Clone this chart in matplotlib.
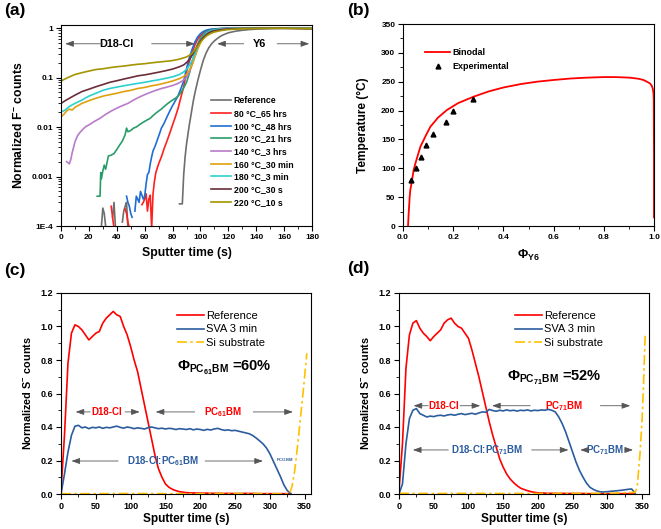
import numpy as np
import matplotlib
matplotlib.use("Agg")
import matplotlib.pyplot as plt
from matplotlib.ticker import MultipleLocator, FixedLocator, LogLocator, NullFormatter

plt.rcParams['font.family'] = ['Liberation Sans', 'DejaVu Sans']
plt.rcParams['font.weight'] = 'bold'
plt.rcParams['mathtext.fontset'] = 'custom'
plt.rcParams['mathtext.rm'] = 'Liberation Sans:bold'
plt.rcParams['mathtext.bf'] = 'Liberation Sans:bold'
plt.rcParams['mathtext.it'] = 'Liberation Sans:bold'
plt.rcParams['mathtext.default'] = 'bf'
plt.rcParams['axes.linewidth'] = 0.8
nan = np.nan

# ---------------- (a) ToF-SIMS F- depth profiles ----------------
ref_t = [29, 30, 31, 32, 33, 34, 37, 38, 39, 40, 41, 44, 45, 46, 47, 48, 49, 85, 86, 87, 88, 89, 90, 91, 92, 93, 94, 95, 96,
         98, 100, 102, 104, 106, 108, 110, 112, 114, 116, 118, 120, 125, 130, 135, 140, 150, 160, 170, 180]
ref_y = [0.0001, 0.00023, 0.00018, 0.0001, 0.00008, nan, 0.00015, 0.0003, 0.0001, 0.00008, nan, 0.00012, 0.0002,
         0.00025, 0.0003, 0.00009, nan, 0.00028, 0.00028, 0.00028, 0.0011, 0.0025, 0.0045, 0.007, 0.011, 0.016, 0.024,
         0.035, 0.048, 0.085, 0.14, 0.22, 0.31, 0.4, 0.48, 0.55, 0.61, 0.67, 0.72, 0.76, 0.8, 0.86, 0.9, 0.93, 0.95,
         0.97, 0.98, 0.98, 0.98]
t80_t = [36, 37, 38, 39, 46, 47, 48, 49, 50, 58, 59, 60, 61, 62, 63, 64, 65, 66, 67, 68, 70, 72, 74, 76, 78, 80, 82, 84,
         86, 88, 90, 92, 94, 96, 98, 100, 102, 104, 106, 108, 110, 115, 120, 130, 140, 150, 160, 170, 180]
t80_y = [0.00025, 0.00015, 0.00009, nan, 0.00022, 0.00018, 0.00012, 0.00009, nan, 0.00027, 0.0003, 0.00035, 0.00045,
         0.0002, 0.00035, 0.00042, 0.00009, 0.00045, 0.0008, 0.0012, 0.0018, 0.0025, 0.0037, 0.0052, 0.0075, 0.011,
         0.016, 0.024, 0.04, 0.065, 0.13, 0.21, 0.32, 0.45, 0.59, 0.7, 0.79, 0.86, 0.9, 0.93, 0.95, 0.97, 0.98, 0.99,
         1.0, 1.0, 1.0, 0.99, 0.97]
t100_t = [47, 48, 49, 50, 51, 52, 53, 54, 55, 56, 57, 58, 59, 60, 61, 62, 63, 64, 65, 66, 67, 68, 70, 72, 74, 76, 78, 80,
          82, 84, 86, 88, 90, 92, 94, 96, 98, 100, 102, 104, 106, 108, 110, 115, 120, 130, 140, 150, 160, 170, 180]
t100_y = [0.0004, 0.0003, 0.00025, 0.00018, 0.00015, nan, 0.0002, 0.0004, 0.00035, 0.0003, 0.0005, 0.00042, 0.00035,
          0.0004, 0.0007, 0.0011, 0.0012, 0.0018, 0.0025, 0.0033, 0.0038, 0.0045, 0.0065, 0.0095, 0.012, 0.016, 0.021,
          0.027, 0.034, 0.043, 0.06, 0.085, 0.15, 0.25, 0.37, 0.52, 0.66, 0.77, 0.85, 0.9, 0.93, 0.95, 0.96, 0.98,
          0.99, 1.0, 1.0, 1.0, 1.0, 0.99, 0.98]
t120_t = [26, 28, 28.5, 29, 30, 31, 32, 34, 36, 38, 40, 42, 44, 46, 47, 48, 50, 52, 54, 56, 58, 60, 62, 64, 66, 68, 70,
          72, 74, 76, 78, 80, 82, 84, 86, 88, 90, 92, 94, 96, 98, 100, 102, 104, 106, 108, 110, 115, 120, 130, 140, 150,
          160, 170, 180]
t120_y = [0.0004, 0.0004, 0.0012, 0.0009, 0.0013, 0.0017, 0.0014, 0.0026, 0.0027, 0.0029, 0.0035, 0.0043, 0.0052,
          0.007, 0.0095, 0.008, 0.0085, 0.0095, 0.01, 0.011, 0.012, 0.013, 0.014, 0.015, 0.017, 0.019, 0.021, 0.023,
          0.026, 0.029, 0.032, 0.035, 0.038, 0.042, 0.05, 0.062, 0.08, 0.12, 0.2, 0.32, 0.47, 0.62, 0.74, 0.83, 0.88,
          0.92, 0.94, 0.97, 0.98, 0.99, 1.0, 1.0, 1.0, 0.99, 0.99]
t140_t = [4, 6, 7, 8, 10, 12, 14, 16, 18, 20, 24, 28, 32, 36, 40, 44, 48, 52, 56, 60, 64, 68, 72, 76, 80, 84, 87, 90, 92,
          94, 96, 98, 100, 102, 104, 106, 108, 110, 115, 120, 130, 140, 150, 160, 170, 180]
t140_y = [0.002, 0.0018, 0.0022, 0.003, 0.005, 0.0068, 0.008, 0.0092, 0.0103, 0.011, 0.013, 0.015, 0.018, 0.021,
          0.024, 0.027, 0.03, 0.035, 0.04, 0.045, 0.05, 0.055, 0.06, 0.064, 0.069, 0.076, 0.085, 0.1, 0.13, 0.18, 0.27,
          0.4, 0.55, 0.67, 0.77, 0.84, 0.88, 0.91, 0.95, 0.97, 0.99, 1.0, 1.0, 0.99, 0.99, 0.98]
t160_t = [0, 2, 4, 6, 8, 10, 15, 20, 25, 30, 35, 40, 45, 50, 55, 60, 65, 70, 75, 80, 85, 88, 90, 92, 94, 96, 98, 100,
          102, 104, 106, 108, 110, 115, 120, 130, 140, 150, 160, 170, 180]
t160_y = [0.016, 0.018, 0.021, 0.023, 0.022, 0.025, 0.03, 0.034, 0.038, 0.042, 0.045, 0.048, 0.052, 0.055, 0.06,
          0.063, 0.068, 0.072, 0.078, 0.085, 0.095, 0.105, 0.115, 0.14, 0.18, 0.26, 0.37, 0.5, 0.62, 0.72, 0.8, 0.85,
          0.88, 0.93, 0.96, 0.98, 0.99, 0.99, 0.99, 0.98, 0.98]
t180_t = [0, 3, 6, 10, 15, 20, 25, 30, 35, 40, 45, 50, 55, 60, 65, 70, 75, 80, 85, 88, 90, 92, 94, 96, 98, 100, 102,
          104, 106, 108, 110, 115, 120, 130, 140, 150, 160, 170, 180]
t180_y = [0.02, 0.022, 0.026, 0.03, 0.035, 0.042, 0.048, 0.055, 0.06, 0.064, 0.068, 0.072, 0.076, 0.08, 0.085, 0.09,
          0.096, 0.103, 0.115, 0.13, 0.145, 0.175, 0.22, 0.3, 0.42, 0.55, 0.67, 0.77, 0.84, 0.88, 0.91, 0.95, 0.97,
          0.99, 1.0, 1.0, 0.99, 0.99, 0.98]
t200_t = [0, 3, 6, 10, 15, 20, 25, 30, 35, 40, 45, 50, 55, 60, 65, 70, 75, 80, 85, 88, 90, 92, 94, 96, 98, 100, 102,
          104, 106, 108, 110, 115, 120, 130, 140, 150, 160, 170, 180]
t200_y = [0.03, 0.034, 0.038, 0.044, 0.052, 0.058, 0.065, 0.072, 0.08, 0.086, 0.093, 0.1, 0.108, 0.113, 0.12, 0.128,
          0.137, 0.148, 0.165, 0.18, 0.2, 0.23, 0.28, 0.35, 0.45, 0.55, 0.65, 0.73, 0.8, 0.85, 0.88, 0.93, 0.96, 0.98,
          0.99, 0.99, 0.99, 0.98, 0.97]
t220_t = [0, 5, 10, 15, 20, 25, 30, 35, 40, 45, 50, 55, 60, 65, 70, 75, 80, 85, 88, 90, 92, 94, 96, 98, 100, 102, 104,
          106, 108, 110, 115, 120, 125, 130, 140, 150, 160, 170, 180]
t220_y = [0.085, 0.1, 0.115, 0.125, 0.135, 0.145, 0.15, 0.158, 0.165, 0.17, 0.178, 0.185, 0.19, 0.198, 0.205, 0.212,
          0.22, 0.235, 0.25, 0.26, 0.28, 0.31, 0.36, 0.43, 0.52, 0.6, 0.68, 0.74, 0.79, 0.83, 0.89, 0.93, 0.95, 0.97,
          0.98, 0.99, 0.99, 0.98, 0.97]

a_labels = ['Reference', '80 °C_65 hrs', '100 °C_48 hrs', '120 °C_21 hrs', '140 °C_3 hrs',
            '160 °C_30 min', '180 °C_3 min', '200 °C_30 s', '220 °C_10 s']
a_colors = ['#6E6E6E', '#FF2020', '#1F6ED4', '#2A9D6A', '#B87CC8', '#E0A010', '#2BD1D1', '#6B2D3A', '#A39500']
a_series = [(ref_t, ref_y), (t80_t, t80_y), (t100_t, t100_y), (t120_t, t120_y), (t140_t, t140_y),
            (t160_t, t160_y), (t180_t, t180_y), (t200_t, t200_y), (t220_t, t220_y)]

# ---------------- (b) phase diagram ----------------
bin_phi = [0.02, 0.0225, 0.0265, 0.029, 0.036, 0.042, 0.049, 0.069, 0.09, 0.109, 0.14, 0.175, 0.22, 0.281, 0.34,
           0.4, 0.47, 0.533, 0.6, 0.666, 0.73, 0.798, 0.85, 0.905, 0.94, 0.958, 0.972, 0.984, 0.991, 0.995, 0.998,
           0.999, 1.0, 1.0]
bin_T = [0, 21, 50, 62, 79, 96, 108, 137, 156, 172, 188, 201, 213, 224, 233, 240, 246, 250, 253, 255.5, 257, 258,
         258, 257, 255, 253, 250, 247, 243, 238, 230, 218, 120, 15]
exp_phi = [0.03, 0.05, 0.07, 0.09, 0.12, 0.17, 0.2, 0.28]
exp_T = [80, 100, 120, 140, 160, 180, 200, 220]

# ---------------- (c) PC61BM ----------------
c_t = list(range(0, 335, 5))
c_ref = [0.02, 0.35, 0.78, 0.96, 1.01, 1.0, 0.98, 0.95, 0.92, 0.94, 0.96, 0.97, 1.02, 1.05, 1.07, 1.09, 1.07, 1.06,
         1.0, 0.95, 0.88, 0.8, 0.73, 0.63, 0.53, 0.43, 0.33, 0.23, 0.15, 0.1, 0.06, 0.04, 0.028, 0.02, 0.014, 0.011,
         0.008, 0.007, 0.006, 0.006, 0.005, 0.005, 0.005, 0.004, 0.004, 0.004, 0.004, 0.003, 0.004, 0.003, 0.003,
         0.003, 0.003, 0.004, 0.003, 0.003, 0.003, 0.002, 0.002, 0.002, 0.002, 0.002, 0.002, 0.002, 0.002, 0.002,
         0.002]
c_sva = [0.0, 0.12, 0.25, 0.35, 0.405, 0.41, 0.395, 0.4, 0.39, 0.398, 0.395, 0.4, 0.392, 0.398, 0.395, 0.4, 0.405,
         0.398, 0.393, 0.4, 0.396, 0.39, 0.395, 0.392, 0.388, 0.396, 0.4, 0.395, 0.39, 0.393, 0.388, 0.392, 0.39,
         0.385, 0.39, 0.388, 0.385, 0.39, 0.383, 0.388, 0.385, 0.38, 0.386, 0.382, 0.388, 0.392, 0.385, 0.38, 0.383,
         0.378, 0.38, 0.375, 0.37, 0.365, 0.36, 0.35, 0.335, 0.318, 0.3, 0.275, 0.24, 0.195, 0.15, 0.105, 0.055,
         0.02, 0.003]
c_si_t = [0, 50, 100, 150, 200, 250, 300, 328, 332, 336, 340, 344, 348, 353]
c_si = [0.002, 0.002, 0.003, 0.002, 0.002, 0.003, 0.002, 0.0, 0.05, 0.15, 0.3, 0.46, 0.62, 0.84]

# ---------------- (d) PC71BM ----------------
d_t = list(range(0, 345, 5))
d_ref = [0.02, 0.3, 0.75, 0.95, 1.02, 1.035, 0.99, 0.96, 0.94, 0.915, 0.94, 0.96, 0.98, 1.02, 1.04, 1.05, 1.02, 1.0,
         0.99, 0.96, 0.93, 0.86, 0.78, 0.7, 0.61, 0.52, 0.43, 0.35, 0.28, 0.21, 0.16, 0.12, 0.09, 0.068, 0.05, 0.035,
         0.027, 0.02, 0.014, 0.01, 0.007, 0.006, 0.005, 0.004, 0.004, 0.004, 0.003, 0.004, 0.003, 0.003, 0.003,
         0.003, 0.003, 0.003, 0.002, 0.002, 0.002, 0.002, 0.002, 0.002, 0.002, 0.002, 0.002, 0.002, 0.002, 0.002,
         0.002, 0.002, 0.002]
d_sva = [0.0, 0.06, 0.3, 0.45, 0.5, 0.51, 0.48, 0.47, 0.46, 0.465, 0.462, 0.468, 0.47, 0.466, 0.472, 0.475, 0.47,
         0.476, 0.48, 0.474, 0.478, 0.482, 0.476, 0.484, 0.49, 0.488, 0.505, 0.498, 0.494, 0.5, 0.496, 0.502, 0.497,
         0.5, 0.495, 0.5, 0.498, 0.502, 0.496, 0.5, 0.498, 0.502, 0.5, 0.505, 0.5, 0.49, 0.46, 0.42, 0.37, 0.31,
         0.25, 0.19, 0.14, 0.1, 0.065, 0.04, 0.027, 0.018, 0.013, 0.012, 0.014, 0.016, 0.018, 0.02, 0.022, 0.025,
         0.028, 0.03, 0.005]
d_si_t = [0, 50, 100, 150, 200, 250, 300, 340, 343, 347, 350, 352, 354.5]
d_si = [0.004, 0.003, 0.004, 0.003, 0.003, 0.004, 0.003, 0.01, 0.04, 0.24, 0.44, 0.64, 0.95]

RED = '#FF0000'
BLUE = '#2B5C9E'
GOLD = '#FFC000'

fig = plt.figure(figsize=(6.61, 5.29), dpi=100)
axa = fig.add_axes([61 / 661, 1 - 226 / 529, 251 / 661, 201 / 529])
axb = fig.add_axes([403 / 661, 1 - 226 / 529, 251 / 661, 202 / 529])
axc = fig.add_axes([61 / 661, 1 - 494 / 529, 250 / 661, 201 / 529])
axd = fig.add_axes([399 / 661, 1 - 494 / 529, 250 / 661, 201 / 529])


def style(ax, fs):
    ax.tick_params(which='major', direction='out', length=3.5, width=0.8, labelsize=fs, pad=2,
                   top=False, right=False)
    ax.tick_params(which='minor', direction='out', length=2, width=0.6, top=False, right=False)


def arrow(ax, x0, x1, y):
    ax.annotate('', xy=(x1, y), xytext=(x0, y),
                arrowprops=dict(arrowstyle='-|>,head_length=0.5,head_width=0.18', color='#555555', lw=0.6,
                                shrinkA=0, shrinkB=0))


# (a)
for (t, y), lab, col in zip(a_series, a_labels, a_colors):
    axa.plot(t, y, color=col, lw=1.2, label=lab)
axa.set_yscale('log')
axa.set_ylim(1e-4, 1.15)
axa.set_xlim(0, 180)
axa.yaxis.set_major_locator(FixedLocator([1e-4, 1e-3, 1e-2, 1e-1, 1]))
axa.set_yticklabels(['1E-4', '0.001', '0.01', '0.1', '1'])
axa.yaxis.set_minor_locator(LogLocator(base=10, subs=np.arange(2, 10)))
axa.yaxis.set_minor_formatter(NullFormatter())
axa.xaxis.set_major_locator(MultipleLocator(20))
axa.xaxis.set_minor_locator(MultipleLocator(10))
style(axa, 6)
axa.set_xlabel('Sputter time (s)', fontsize=8.8, fontweight='bold')
axa.set_ylabel(r'Normalized F$^{-}$ counts', fontsize=8.8, fontweight='bold')
axa.yaxis.set_label_coords(-0.145, 0.5)
axa.xaxis.set_label_coords(0.5, -0.105)
axa.legend(loc='upper left', bbox_to_anchor=(0.598, 0.645), frameon=False, borderpad=0,
           borderaxespad=0, handlelength=2.3, handletextpad=0.3, labelspacing=0.42,
           prop={'weight': 'bold', 'size': 6.3})
axa.text(40, 0.48, 'D18-Cl', ha='center', va='center', fontsize=7.8, fontweight='bold')
arrow(axa, 30, 3, 0.48)
arrow(axa, 65, 96, 0.48)
axa.text(142, 0.48, 'Y6', ha='center', va='center', fontsize=7.8, fontweight='bold')
arrow(axa, 131, 112, 0.48)
arrow(axa, 155, 178, 0.48)

# (b)
axb.plot(bin_phi, bin_T, color=RED, lw=1.3, label='Binodal')
axb.plot(exp_phi, exp_T, ls='none', marker='^', ms=3.5, color='black', label='Experimental')
axb.set_xlim(0, 1)
axb.set_ylim(0, 350)
axb.xaxis.set_major_locator(MultipleLocator(0.2))
axb.xaxis.set_minor_locator(MultipleLocator(0.1))
axb.yaxis.set_major_locator(MultipleLocator(50))
axb.yaxis.set_minor_locator(MultipleLocator(25))
axb.set_xticklabels(['%.1f' % v for v in axb.get_xticks()])
style(axb, 6)
axb.set_xlabel(r'$\Phi_{Y6}$', fontsize=9)
axb.set_ylabel('Temperature (°C)', fontsize=8.6, fontweight='bold')
axb.yaxis.set_label_coords(-0.135, 0.5)
axb.xaxis.set_label_coords(0.5, -0.11)
axb.legend(loc='upper left', bbox_to_anchor=(0.088, 0.88), frameon=False, borderpad=0, borderaxespad=0,
           handlelength=2.8, handletextpad=0.25, labelspacing=0.5, numpoints=1,
           prop={'weight': 'bold', 'size': 6.5})


def sims_panel(ax, t, ref, sva, si_t, si, xmax):
    ax.plot(t, ref, color=RED, lw=1.2, label='Reference')
    ax.plot(t, sva, color=BLUE, lw=1.2, label='SVA 3 min')
    ax.plot(si_t, si, color=GOLD, lw=1.2, ls=(0, (6, 2, 1.5, 2)), label='Si substrate')
    ax.set_xlim(0, xmax)
    ax.set_ylim(0, 1.2)
    ax.xaxis.set_major_locator(MultipleLocator(50))
    ax.xaxis.set_minor_locator(MultipleLocator(25))
    ax.yaxis.set_major_locator(MultipleLocator(0.2))
    ax.yaxis.set_minor_locator(MultipleLocator(0.1))
    ax.set_yticklabels(['%.1f' % v for v in ax.get_yticks()])
    style(ax, 6.5)
    ax.set_xlabel('Sputter time (s)', fontsize=8.5, fontweight='bold')
    ax.set_ylabel(r'Normalized S$^{-}$ counts', fontsize=7.8, fontweight='bold')
    ax.yaxis.set_label_coords(-0.112, 0.5)
    ax.xaxis.set_label_coords(0.5, -0.095)
    ax.legend(loc='upper left', bbox_to_anchor=(0.464, 0.91), frameon=False, borderpad=0, borderaxespad=0,
              handlelength=2.4, handletextpad=0.25, labelspacing=0.3, prop={'weight': 'normal', 'size': 8})


# (c)
sims_panel(axc, c_t, c_ref, c_sva, c_si_t, c_si, 359)
axc.text(166, 0.75, r'$\Phi_{PC_{61}BM}$ =60%', ha='left', va='center', fontsize=10.5, fontweight='bold')
axc.text(66, 0.49, 'D18-Cl', ha='center', va='center', fontsize=7, fontweight='bold', color=RED)
arrow(axc, 42, 21, 0.49)
arrow(axc, 92, 113, 0.49)
axc.text(232, 0.49, r'PC$_{61}$BM', ha='center', va='center', fontsize=7, fontweight='bold', color=RED)
arrow(axc, 192, 136, 0.49)
arrow(axc, 276, 333, 0.49)
axc.text(147, 0.197, r'D18-Cl:PC$_{61}$BM', ha='center', va='center', fontsize=7, fontweight='bold', color=BLUE)
arrow(axc, 82, 15, 0.197)
arrow(axc, 207, 290, 0.197)
axc.text(321, 0.2, r'PC$_{61}$BM', ha='center', va='center', fontsize=3, fontweight='bold', color=BLUE)

# (d)
sims_panel(axd, d_t, d_ref, d_sva, d_si_t, d_si, 360)
axd.text(156, 0.69, r'$\Phi_{PC_{71}BM}$ =52%', ha='left', va='center', fontsize=10.5, fontweight='bold')
axd.text(64, 0.527, 'D18-Cl', ha='center', va='center', fontsize=7, fontweight='bold', color=RED)
arrow(axd, 42, 21, 0.527)
arrow(axd, 88, 117, 0.527)
axd.text(238, 0.527, r'PC$_{71}$BM', ha='center', va='center', fontsize=7, fontweight='bold', color=RED)
arrow(axd, 189, 134, 0.527)
arrow(axd, 290, 333, 0.527)
axd.text(127, 0.263, r'D18-Cl:PC$_{71}$BM', ha='center', va='center', fontsize=7, fontweight='bold', color=BLUE)
arrow(axd, 71, 20, 0.263)
arrow(axd, 191, 244, 0.263)
axd.text(297, 0.263, r'PC$_{71}$BM', ha='center', va='center', fontsize=7, fontweight='bold', color=BLUE)
arrow(axd, 270, 261, 0.263)
arrow(axd, 327, 337, 0.263)

for lab, x, y in [('(a)', 4, 11), ('(b)', 347, 11), ('(c)', 4, 270), ('(d)', 347, 269)]:
    fig.text(x / 661, 1 - y / 529, lab, ha='left', va='center', fontsize=12.5, fontweight='bold')

fig.savefig('out.png', dpi=100)
